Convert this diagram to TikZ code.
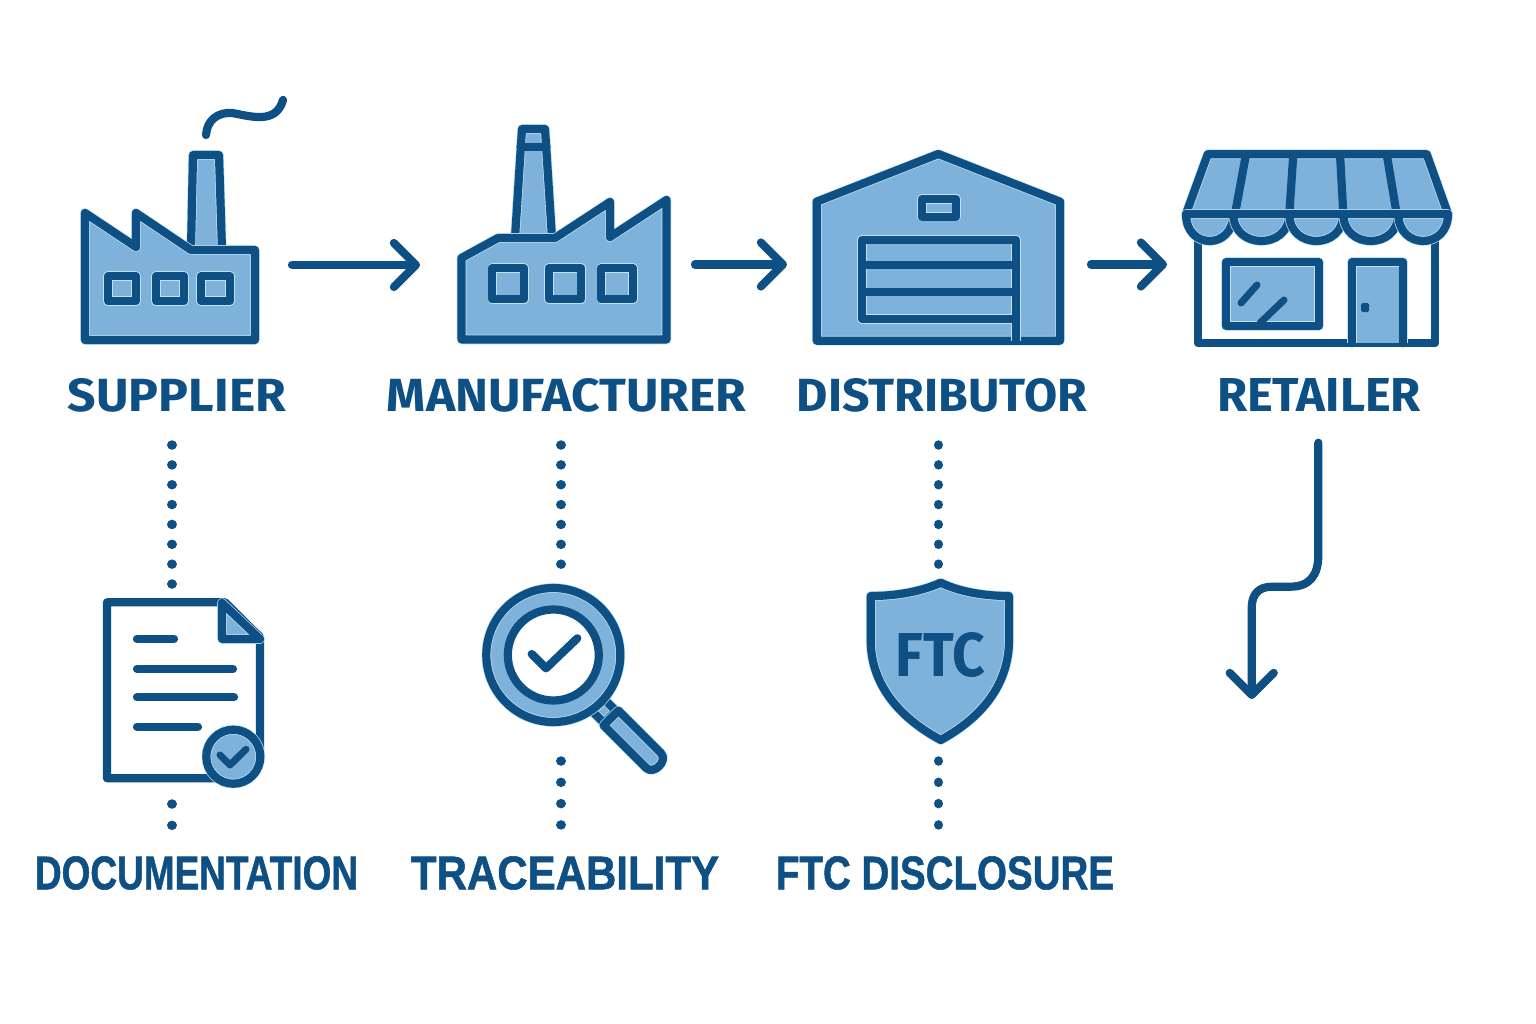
\documentclass[tikz,border=0pt]{standalone}
\usepackage{fontspec}
\usepackage{graphicx}
\usetikzlibrary{arrows.meta}
\newfontfamily\topfont[BoldFont=Fira Sans Bold]{Fira Sans}
\newfontfamily\botfont[BoldFeatures={FakeBold=1.2}]{Liberation Sans}
\definecolor{dk}{HTML}{0E4F84}
\definecolor{lb}{HTML}{7EB2DB}
\definecolor{pale}{HTML}{BFE2F5}
\newcommand{\toplab}[2]{\resizebox{#1pt}{33pt}{\topfont\bfseries #2}}
\newcommand{\botlab}[2]{\resizebox{#1pt}{33pt}{\botfont\bfseries #2}}
\tikzset{
  ic/.style={preaction={fill=lb},preaction={draw=pale,line width=9.6pt,line join=round},draw=dk,line width=8.2pt,line join=round,line cap=round},
  wh/.style={fill=white,draw=dk,line width=8.2pt,line join=round,line cap=round},
  ln/.style={draw=dk,line width=8.2pt,line join=round,line cap=round},
  flow/.style={ln,-{Straight Barb[length=22pt,width=44pt,round,line width=8.2pt]}},
  dots/.style={draw=dk,line width=9.5pt,line cap=round,dash pattern=on 0.01pt off 19.85pt},
  dotslow/.style={dots,dash pattern=on 0.01pt off 21.3pt},
  lab/.style={inner sep=0pt,text=dk},
}
\begin{document}
\begin{tikzpicture}[x=1pt,y=-1pt]
\useasboundingbox (0,0) rectangle (1536,1024);
\fill[white] (0,0) rectangle (1536,1024);
% ---------- supplier
\path[ic] (193,155) -- (219,155) -- (222,250) -- (191,250) -- cycle;
\path[ic] (85,340) -- (85,213) -- (136,247) -- (136,213) -- (191,250) -- (255,250) -- (255,340) -- cycle;
\path[ic] (108,276) rectangle (136,301);
\path[ic] (156,276) rectangle (184,301);
\path[ic] (201,276) rectangle (230,301);
\draw[ln] (206,135) .. controls (207,120) and (218,112) .. (232,113) .. controls (250,116) and (276,125) .. (283,100);
% ---------- manufacturer
\path[ic] (522,129) -- (545,129) -- (552,238) -- (515,238) -- cycle;
\draw[ln] (520.5,147) -- (546.5,147);
\path[ic] (461.5,339.5) -- (461.5,258) -- (498,238) -- (555,238) -- (610,202) -- (610,237) -- (666.5,200) -- (666.5,339.5) -- cycle;
\path[ic] (492.3,268.3) rectangle (524.3,299.3);
\path[ic] (548.7,268.3) rectangle (581.3,299.3);
\path[ic] (601.3,268.3) rectangle (633,299.3);
% ---------- distributor
\path[ic] (816.7,340.7) -- (816.7,201.7) -- (938.3,154) -- (1060,201.7) -- (1060,340.7) -- cycle;
\path[ic] (921.7,199) rectangle (956.3,216.7);
\path[ic] (1016,340.7) -- (1016,239.7) -- (862,239.7) -- (862,319) -- (1016,319);
\draw[ln] (862,265) -- (1016,265) (862,292.3) -- (1016,292.3);
% ---------- retailer
\path[wh] (1198,235) -- (1198,343.3) -- (1435,343.3) -- (1435,235);
\path[ic] (1226,262.3) rectangle (1319,325.7);
\draw[ln,line width=7pt] (1241,303) -- (1257,285) (1260,323) -- (1284,300);
\path[ic] (1351.7,343.3) -- (1351.7,262.3) -- (1403.3,262.3) -- (1403.3,343.3);
\fill[dk,rounded corners=1.5pt] (1361,303) rectangle (1369,312);
\path[ic] (1186,214) -- (1207.7,154.3) -- (1426.7,154.3) -- (1448,214) -- cycle;
\draw[ln] (1246,154.3) -- (1235,214) (1293.3,154.3) -- (1289.3,214) (1340,154.3) -- (1343.3,214) (1386.7,154.3) -- (1396.7,214);
\path[ic] (1186,214) .. controls (1186,250) and (1233.3,250) .. (1233.3,214) -- cycle;
\path[ic] (1233.3,214) .. controls (1233.3,250) and (1289.3,250) .. (1289.3,214) -- cycle;
\path[ic] (1289.3,214) .. controls (1289.3,250) and (1343.3,250) .. (1343.3,214) -- cycle;
\path[ic] (1343.3,214) .. controls (1343.3,250) and (1398.3,250) .. (1398.3,214) -- cycle;
\path[ic] (1398.3,214) .. controls (1398.3,250) and (1448,250) .. (1448,214) -- cycle;
\draw[ln] (1186,214) -- (1448,214);
% ---------- document
\path[wh] (107,602.3) -- (225,602.3) -- (260,637) -- (260,760) -- (230,778.3) -- (107,778.3) -- cycle;
\path[ic] (222,603) -- (222,639) -- (260,639) -- cycle;
\draw[ln] (137,639) -- (174,639) (137,669) -- (233,669) (137,697.3) -- (234,697.3) (137,726.7) -- (198,726.7);
\path[ic] (233.3,756.7) circle (27);
\draw[draw=dk,line width=7pt,line cap=round,line join=round] (220,755) -- (230,765) -- (246,749.3);
% ---------- magnifier
\path[ic] (604,699) -- (616,711) -- (604,723) -- (592,711) -- cycle;
\path[ic] (618.4,710.6) -- (660.9,753.1) .. controls (668.5,760.5) and (653.5,775.5) .. (646.1,767.9) -- (603.6,725.4) -- cycle;
\path[ic] (553.3,655) circle (67);
\path[wh] (553.3,655) circle (45.5);
\draw[ln] (531.7,654) -- (546,668.3) -- (577.3,638.3);
% ---------- shield
\path[ic] (940.7,582.7) .. controls (920,592) and (895,596) .. (870.7,596) -- (870.7,640) .. controls (870.7,685) and (900,718) .. (940.7,740) .. controls (981,718) and (1009,685) .. (1009,640) -- (1009,596) .. controls (985,596) and (960,592) .. (940.7,582.7) -- cycle;
\node[lab] (ftc) at (940.5,655) {\resizebox{89pt}{44pt}{\topfont\bfseries FTC}};
% ---------- labels
\node[lab] (supplier) at (177,395) {\toplab{218}{SUPPLIER}};
\node[lab] (manufacturer) at (566.5,395) {\toplab{359}{MANUFACTURER}};
\node[lab] (distributor) at (942,395) {\toplab{290}{DISTRIBUTOR}};
\node[lab] (retailer) at (1319,395) {\toplab{204}{RETAILER}};
\node[lab] (documentation) at (196.5,873) {\botlab{323}{DOCUMENTATION}};
\node[lab] (traceability) at (565,873) {\botlab{308}{TRACEABILITY}};
\node[lab] (disclosure) at (945,873) {\botlab{338}{FTC DISCLOSURE}};
% ---------- connector ends
\coordinate (a1s) at (292,265); \coordinate (a1e) at (420,265);
\coordinate (a2s) at (695,264.5); \coordinate (a2e) at (787,264.5);
\coordinate (a3s) at (1091,264.5); \coordinate (a3e) at (1167,264.5);
\coordinate (r1) at (1318.3,442.7); \coordinate (r2) at (1251.7,699);
\coordinate (d1a) at (172,445); \coordinate (d1b) at (172,585);
\coordinate (d1c) at (172,804); \coordinate (d1d) at (172,826);
\coordinate (d2a) at (561,445); \coordinate (d2b) at (561,565);
\coordinate (d2c) at (561,761); \coordinate (d2d) at (561,826);
\coordinate (d3a) at (938.5,445); \coordinate (d3b) at (938.5,565);
\coordinate (d3c) at (938.5,761); \coordinate (d3d) at (938.5,826);
% ---------- flow arrows
\draw[flow] (a1s) -- (a1e);
\draw[flow] (a2s) -- (a2e);
\draw[flow] (a3s) -- (a3e);
\draw[flow] (r1) -- (1318.3,555) .. controls (1318.3,575) and (1310,586.7) .. (1290,586.7) -- (1272,586.7) .. controls (1258,586.7) and (1251.7,595) .. (1251.7,608) -- (r2);
% ---------- dotted links
\draw[dots] (d1a) -- (d1b);
\draw[dotslow] (d1c) -- (d1d);
\draw[dots] (d2a) -- (d2b);
\draw[dotslow] (d2c) -- (d2d);
\draw[dots] (d3a) -- (d3b);
\draw[dotslow] (d3c) -- (d3d);
\end{tikzpicture}
\end{document}
